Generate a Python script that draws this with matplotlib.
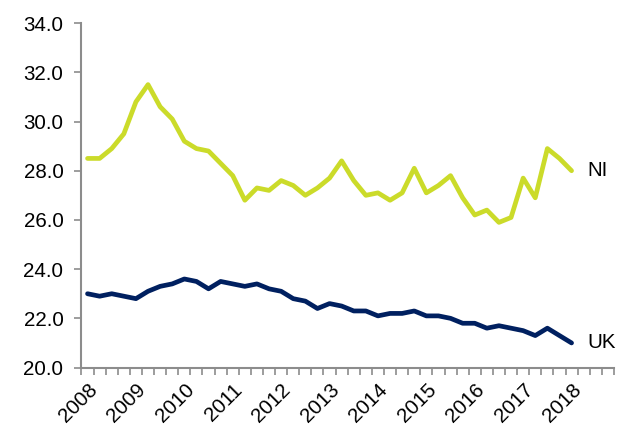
import numpy as np
import matplotlib
matplotlib.use("Agg")
import matplotlib.pyplot as plt

plt.rcParams['font.family'] = ['Liberation Sans', 'DejaVu Sans']

# quarterly rates, 2008 Q1 .. 2018 Q1
ni = [28.5, 28.5, 28.9, 29.5, 30.8, 31.5, 30.6, 30.1, 29.2, 28.9,
      28.8, 28.3, 27.8, 26.8, 27.3, 27.2, 27.6, 27.4, 27.0, 27.3,
      27.7, 28.4, 27.6, 27.0, 27.1, 26.8, 27.1, 28.1, 27.1, 27.4,
      27.8, 26.9, 26.2, 26.4, 25.9, 26.1, 27.7, 26.9, 28.9, 28.5,
      28.0]
uk = [23.0, 22.9, 23.0, 22.9, 22.8, 23.1, 23.3, 23.4, 23.6, 23.5,
      23.2, 23.5, 23.4, 23.3, 23.4, 23.2, 23.1, 22.8, 22.7, 22.4,
      22.6, 22.5, 22.3, 22.3, 22.1, 22.2, 22.2, 22.3, 22.1, 22.1,
      22.0, 21.8, 21.8, 21.6, 21.7, 21.6, 21.5, 21.3, 21.6, 21.3,
      21.0]
years = [str(y) for y in range(2008, 2019)]
n_cats = 44  # axis runs on to the end of 2018

fs = 14.8
grey = '#8c8c8c'
fig = plt.figure(figsize=(6.22, 4.36), dpi=100)
ax = fig.add_axes([0.131, 0.157, 0.856, 0.79])

x = np.arange(len(ni))
ax.plot(x, ni, color='#cbdb2a', linewidth=3.4, solid_joinstyle='round', solid_capstyle='round')
ax.plot(x, uk, color='#002060', linewidth=3.4, solid_joinstyle='round', solid_capstyle='round')

ax.text(41.3, ni[-1], 'NI', fontsize=fs, ha='left', va='center')
ax.text(41.3, uk[-1], 'UK', fontsize=fs, ha='left', va='center')

ax.set_xlim(-0.5, n_cats - 0.5)
ax.set_ylim(20, 34)
ax.set_yticks(np.arange(20, 34.1, 2))
ax.set_yticklabels([f'{v:.1f}' for v in np.arange(20, 34.1, 2)])

ax.set_xticks(np.arange(-0.5, n_cats, 1))
ax.set_xticklabels([])
ax.set_xticks(np.arange(0, len(ni), 4), minor=True)
ax.set_xticklabels(years, minor=True, rotation=45, ha='right', va='top',
                   rotation_mode='anchor')

ax.tick_params(axis='x', which='major', length=5, width=1.2, color=grey, direction='out')
ax.tick_params(axis='x', which='minor', length=0, pad=9, labelsize=fs)
ax.tick_params(axis='y', length=5, width=1.2, color=grey, labelsize=fs, pad=8)

for s in ['top', 'right']:
    ax.spines[s].set_visible(False)
for s in ['left', 'bottom']:
    ax.spines[s].set_color(grey)
    ax.spines[s].set_linewidth(1.5)

plt.savefig('out.png', dpi=100)
